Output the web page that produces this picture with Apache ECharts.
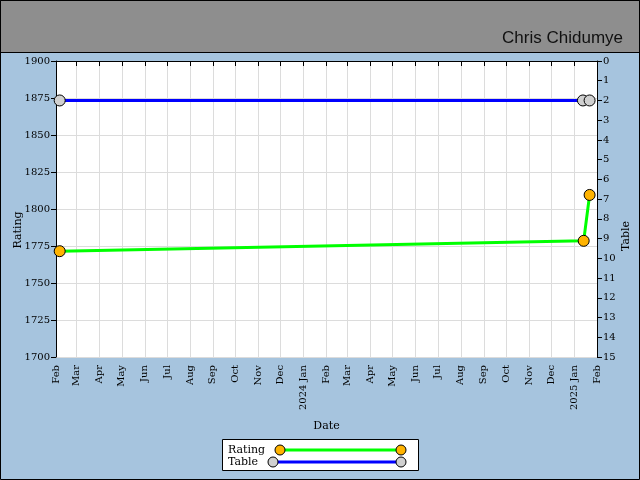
<!DOCTYPE html>
<html>
<head>
<meta charset="utf-8">
<script src="https://cdn.jsdelivr.net/npm/echarts@6/dist/echarts.min.js"></script>
<style>
html,body{margin:0;padding:0;background:#a6c4de;}
#chart{width:640px;height:480px;}
</style>
</head>
<body>
<div id="chart"></div>
<script>
// ---- data ----
const titleText = 'Chris Chidumye';
const ratingDates = ['2023-02-06', '2025-01-14', '2025-01-22'];
const ratingValues = [1771.5, 1778.5, 1809.5];
const tableDates = ['2023-02-06', '2025-01-13', '2025-01-22'];
const tableValues = [2, 2, 2];
const monthNames = ['Jan','Feb','Mar','Apr','May','Jun','Jul','Aug','Sep','Oct','Nov','Dec'];
const xMin = '2023-02-01';
const xMax = '2025-02-01';

function ts(s){ const p = s.split('-').map(Number); return Date.UTC(p[0], p[1]-1, p[2]); }
const ratingData = ratingDates.map((d,i)=>[ts(d), ratingValues[i]]);
const tableData = tableDates.map((d,i)=>[ts(d), tableValues[i]]);

const F = 'DejaVu Serif';
const chart = echarts.init(document.getElementById('chart'), null, {renderer:'canvas'});

const legendItems = [
  {name:'Rating', line:'#00ff00', fill:'#ffb300', y:450, x1:280},
  {name:'Table', line:'#0000ff', fill:'#d0d0d0', y:462, x1:273}
];
const legendGraphics = [{
  type:'rect', shape:{x:222.5,y:439.5,width:196,height:31}, style:{fill:'#fff',stroke:'#000',lineWidth:1}
}];
legendItems.forEach(it=>{
  legendGraphics.push({type:'text', x:228, y:it.y, style:{text:it.name, font:'11px "'+F+'"', fill:'#000', textVerticalAlign:'middle'}});
  legendGraphics.push({type:'line', shape:{x1:it.x1,y1:it.y,x2:401,y2:it.y}, style:{stroke:it.line,lineWidth:3}});
  [it.x1, 401].forEach(cx=>legendGraphics.push({type:'circle', shape:{cx:cx,cy:it.y,r:5}, style:{fill:it.fill,stroke:'#000',lineWidth:1}}));
});

const option = {
  backgroundColor:'#a6c4de',
  animation:false,
  title:{text:titleText, right:12, top:25, textStyle:{fontFamily:'Liberation Sans', fontWeight:'normal', fontSize:17, color:'#111'}},
  graphic:[
    {type:'rect', z:-10, shape:{x:0.5,y:0.5,width:639,height:52}, style:{fill:'#8e8e8e',stroke:'#000',lineWidth:1}},
    {type:'rect', z:-10, shape:{x:0.5,y:0.5,width:639,height:479}, style:{fill:'none',stroke:'#000',lineWidth:1}},
    ...legendGraphics
  ],
  grid:{left:56, right:43, top:61, bottom:123, show:true, backgroundColor:'#fff', borderWidth:0, containLabel:false, outerBoundsMode:'none'},
  xAxis:{
    type:'time', min:ts(xMin), max:ts(xMax), splitNumber:24,
    name:'Date', nameLocation:'middle', nameGap:64, nameMoveOverlap:false,
    nameTextStyle:{fontFamily:F, fontSize:11, color:'#000'},
    axisLine:{lineStyle:{color:'#000',width:1}},
    axisTick:{show:true, length:5, lineStyle:{color:'#000'}},
    splitLine:{show:true, lineStyle:{color:'#dcdcdc',width:1}},
    axisLabel:{rotate:90, fontFamily:F, fontSize:10, color:'#000', hideOverlap:false, showMinLabel:true, showMaxLabel:true,
      formatter:function(v){ const d=new Date(v); const m=d.getUTCMonth(); return m===0 ? d.getUTCFullYear()+' Jan' : monthNames[m]; }}
  },
  yAxis:[{
    type:'value', min:1700, max:1900, interval:25, position:'left',
    name:'Rating', nameLocation:'middle', nameGap:32, nameRotate:90, nameMoveOverlap:false,
    nameTextStyle:{fontFamily:F, fontSize:11, color:'#000', padding:[0,42,0,0]},
    axisLine:{show:true, lineStyle:{color:'#000'}},
    axisTick:{show:true, length:5, lineStyle:{color:'#000'}},
    splitLine:{show:true, lineStyle:{color:'#dcdcdc'}},
    axisLabel:{fontFamily:F, fontSize:10, color:'#000', margin:6, formatter:function(v){return String(v);}}
  },{
    type:'value', min:0, max:15, interval:1, inverse:true, position:'right',
    name:'Table', nameLocation:'middle', nameGap:24, nameRotate:90, nameMoveOverlap:false,
    nameTextStyle:{fontFamily:F, fontSize:11, color:'#000', padding:[0,54,0,0]},
    axisLine:{show:true, lineStyle:{color:'#000'}},
    axisTick:{show:true, length:5, lineStyle:{color:'#000'}},
    splitLine:{show:false},
    axisLabel:{fontFamily:F, fontSize:10, color:'#000', margin:6}
  }],
  series:[{
    name:'Rating', type:'line', yAxisIndex:0, data:ratingData,
    symbol:'circle', symbolSize:11, showAllSymbol:true,
    lineStyle:{color:'#00ff00', width:3},
    itemStyle:{color:'#ffb300', borderColor:'#000', borderWidth:1}
  },{
    name:'Table', type:'line', yAxisIndex:1, data:tableData,
    symbol:'circle', symbolSize:11, showAllSymbol:true,
    lineStyle:{color:'#0000ff', width:3},
    itemStyle:{color:'#d0d0d0', borderColor:'#000', borderWidth:1}
  }]
};
chart.setOption(option);
</script>
</body>
</html>
